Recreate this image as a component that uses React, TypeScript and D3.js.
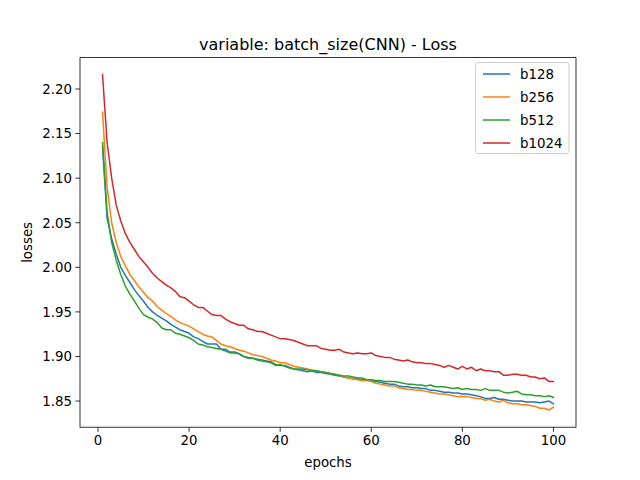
import React from "react";
import * as d3 from "d3";

const series = ["b128", "b256", "b512", "b1024"];
const colors = ["#1f77b4", "#ff7f0e", "#2ca02c", "#d62728"];
const xTicks = [0, 20, 40, 60, 80, 100];
const yTicks = [1.85, 1.9, 1.95, 2.0, 2.05, 2.1, 2.15, 2.2];

const b128 = [
  2.135,2.055,2.032,2.015,2.000,1.991,1.983,1.975,1.968,1.962,
  1.955,1.950,1.946,1.943,1.940,1.936,1.933,1.930,1.928,1.926,
  1.922,1.920,1.917,1.914,1.914,1.914,1.908,1.908,1.905,1.905,
  1.903,1.900,1.899,1.898,1.897,1.896,1.895,1.894,1.891,1.890,
  1.890,1.888,1.886,1.885,1.884,1.883,1.884,1.882,1.882,1.881,
  1.880,1.879,1.878,1.877,1.876,1.875,1.875,1.874,1.874,1.873,
  1.872,1.871,1.870,1.869,1.869,1.867,1.866,1.866,1.865,1.865,
  1.864,1.864,1.862,1.862,1.861,1.860,1.860,1.859,1.859,1.858,
  1.858,1.857,1.856,1.855,1.853,1.853,1.854,1.852,1.852,1.851,
  1.850,1.850,1.850,1.849,1.849,1.849,1.848,1.849,1.850,1.847,
];
const b256 = [
  2.174,2.090,2.050,2.028,2.012,2.002,1.992,1.985,1.978,1.972,
  1.966,1.962,1.956,1.952,1.948,1.945,1.941,1.938,1.936,1.934,
  1.931,1.928,1.925,1.923,1.922,1.918,1.914,1.912,1.911,1.909,
  1.907,1.906,1.904,1.902,1.901,1.900,1.898,1.896,1.895,1.893,
  1.893,1.891,1.889,1.888,1.887,1.886,1.885,1.884,1.883,1.882,
  1.881,1.880,1.879,1.877,1.876,1.875,1.874,1.873,1.873,1.872,
  1.870,1.869,1.868,1.867,1.867,1.865,1.864,1.863,1.863,1.862,
  1.862,1.861,1.860,1.859,1.858,1.858,1.857,1.856,1.855,1.855,
  1.855,1.854,1.853,1.853,1.851,1.852,1.850,1.849,1.851,1.848,
  1.847,1.847,1.846,1.846,1.845,1.844,1.842,1.842,1.840,1.843,
];
const b512 = [
  2.140,2.062,2.028,2.008,1.992,1.979,1.970,1.962,1.954,1.947,
  1.944,1.942,1.938,1.932,1.930,1.930,1.926,1.925,1.923,1.921,
  1.918,1.914,1.913,1.911,1.910,1.909,1.908,1.906,1.904,1.904,
  1.903,1.900,1.898,1.898,1.896,1.895,1.894,1.893,1.890,1.891,
  1.889,1.887,1.886,1.886,1.886,1.885,1.884,1.884,1.883,1.882,
  1.881,1.880,1.879,1.878,1.878,1.877,1.876,1.876,1.874,1.874,
  1.873,1.873,1.872,1.872,1.872,1.871,1.870,1.869,1.869,1.868,
  1.868,1.867,1.868,1.866,1.866,1.866,1.865,1.864,1.865,1.863,
  1.864,1.863,1.863,1.862,1.864,1.862,1.862,1.862,1.860,1.859,
  1.860,1.861,1.858,1.857,1.857,1.856,1.856,1.855,1.856,1.854,
];
const b1024 = [
  2.216,2.140,2.100,2.070,2.052,2.038,2.028,2.020,2.012,2.006,
  2.000,1.993,1.988,1.984,1.980,1.977,1.973,1.967,1.966,1.962,
  1.958,1.955,1.955,1.951,1.947,1.946,1.946,1.942,1.939,1.937,
  1.935,1.935,1.931,1.930,1.928,1.928,1.926,1.924,1.922,1.920,
  1.920,1.919,1.918,1.916,1.914,1.912,1.912,1.912,1.909,1.908,
  1.907,1.907,1.908,1.905,1.904,1.903,1.904,1.903,1.903,1.904,
  1.901,1.900,1.899,1.899,1.897,1.896,1.895,1.896,1.894,1.893,
  1.893,1.892,1.892,1.891,1.890,1.888,1.890,1.888,1.886,1.889,
  1.886,1.888,1.884,1.886,1.884,1.884,1.883,1.883,1.879,1.879,
  1.880,1.880,1.879,1.879,1.877,1.877,1.875,1.876,1.872,1.872,
];
const data = [b128, b256, b512, b1024];

const W = 640, H = 480;
const L = 80, R = 576, T = 57.6, B = 427.2;
const font = "DejaVu Sans, sans-serif";

export default function App() {
  const x = d3.scaleLinear().domain([-3.95, 104.95]).range([L, R]);
  const y = d3.scaleLinear().domain([1.8207, 2.2352]).range([B, T]);
  const line = d3
    .line<number>()
    .x((_, i) => x(i + 1))
    .y((d) => y(d));

  return (
    <svg width={W} height={H} style={{ position: "absolute", left: 0, top: 0, background: "#fff" }}>
      <rect x={0} y={0} width={W} height={H} fill="#fff" />
      <defs>
        <clipPath id="plot">
          <rect x={L} y={T} width={R - L} height={B - T} />
        </clipPath>
      </defs>
      <g clipPath="url(#plot)">
        {data.map((d, i) => (
          <path key={i} d={line(d) || ""} fill="none" stroke={colors[i]} strokeWidth={1.5} strokeLinejoin="round" strokeLinecap="square" />
        ))}
      </g>
      <rect x={L} y={T} width={R - L} height={B - T} fill="none" stroke="#000" strokeWidth={0.8} />
      {xTicks.map((t) => (
        <g key={t}>
          <line x1={x(t)} x2={x(t)} y1={B} y2={B + 4.67} stroke="#000" strokeWidth={0.8} />
          <text x={x(t)} y={B + 18} textAnchor="middle" fontFamily={font} fontSize={13.33}>{t}</text>
        </g>
      ))}
      {yTicks.map((t) => (
        <g key={t}>
          <line x1={L - 4.67} x2={L} y1={y(t)} y2={y(t)} stroke="#000" strokeWidth={0.8} />
          <text x={L - 8} y={y(t) + 4.8} textAnchor="end" fontFamily={font} fontSize={13.33}>{t.toFixed(2)}</text>
        </g>
      ))}
      <text x={(L + R) / 2} y={467} textAnchor="middle" fontFamily={font} fontSize={13.33}>epochs</text>
      <text transform={`translate(32,${(T + B) / 2}) rotate(-90)`} textAnchor="middle" fontFamily={font} fontSize={13.33}>losses</text>
      <text x={(L + R) / 2} y={50} textAnchor="middle" fontFamily={font} fontSize={16}>variable: batch_size(CNN) - Loss</text>
      <rect x={475.5} y={62.5} width={93.5} height={91} rx={3} fill="#fff" fillOpacity={0.8} stroke="#ccc" strokeWidth={1} />
      {series.map((s, i) => (
        <g key={s}>
          <line x1={483} x2={510} y1={74 + i * 23} y2={74 + i * 23} stroke={colors[i]} strokeWidth={1.5} />
          <text x={520} y={78.5 + i * 23} fontFamily={font} fontSize={13.33}>{s}</text>
        </g>
      ))}
    </svg>
  );
}
